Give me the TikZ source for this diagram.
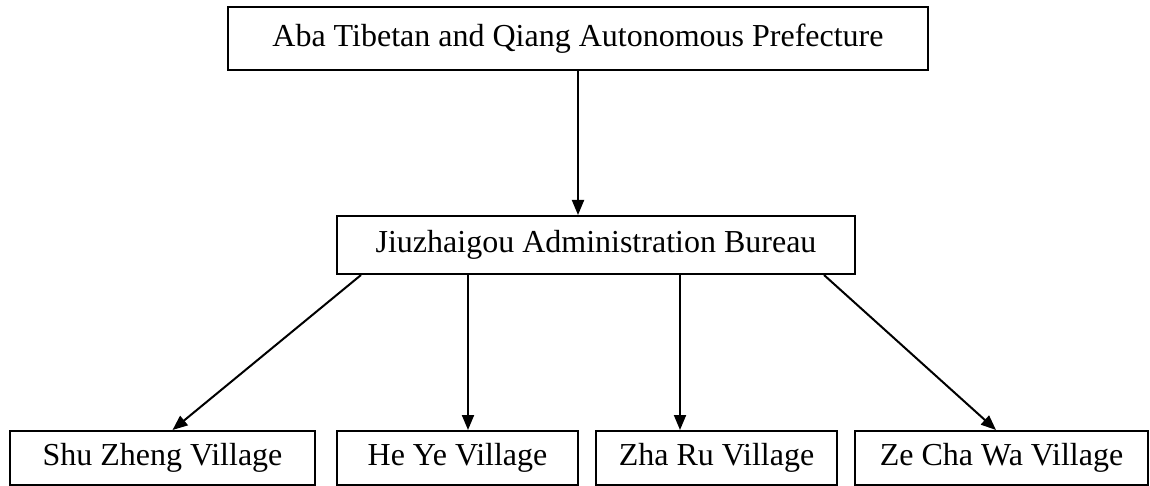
\documentclass[tikz,border=0pt]{standalone}
\usepackage{fontspec}
\setmainfont{Liberation Serif}
\usepackage{tikz}
\usetikzlibrary{arrows.meta, positioning}
\tikzstyle{fBox} = [rectangle, draw=black, line width=1pt, inner sep=0pt, font=\fontsize{16pt}{19pt}\selectfont, text centered]
\tikzstyle{fArrow} = [line width=1pt, ->, >={Triangle[length=7.5pt,width=6pt]}]

\begin{document}
\begin{tikzpicture}[x=0.5pt, y=-0.5pt]
    \useasboundingbox (0,0) rectangle (1150,486);
    \node (aba) [fBox, minimum width=350pt, minimum height=31.5pt] at (578,38.5) {Aba Tibetan and Qiang Autonomous Prefecture};
    \node (bureau) [fBox, minimum width=259pt, minimum height=29pt] at (596,245) {Jiuzhaigou Administration Bureau};
    \node (shu) [fBox, minimum width=152.5pt, minimum height=27pt] at (162.5,458) {Shu Zheng Village};
    \node (heye) [fBox, minimum width=120.5pt, minimum height=27pt] at (457.5,458) {He Ye Village};
    \node (zharu) [fBox, minimum width=120.5pt, minimum height=27pt] at (716.5,458) {Zha Ru Village};
    \node (zecha) [fBox, minimum width=146.5pt, minimum height=27pt] at (1001.5,458) {Ze Cha Wa Village};

    \draw [fArrow] (aba.south) -- (aba.south |- bureau.north);
    \draw [fArrow] ([xshift=12.5pt]bureau.south west) -- ([xshift=5pt]shu.north);
    \draw [fArrow] ([xshift=66pt]bureau.south west) -- ([xshift=66pt]bureau.south west |- heye.north);
    \draw [fArrow] ([xshift=172pt]bureau.south west) -- ([xshift=172pt]bureau.south west |- zharu.north);
    \draw [fArrow] ([xshift=-16pt]bureau.south east) -- ([xshift=-2.75pt]zecha.north);
\end{tikzpicture}
\end{document}
